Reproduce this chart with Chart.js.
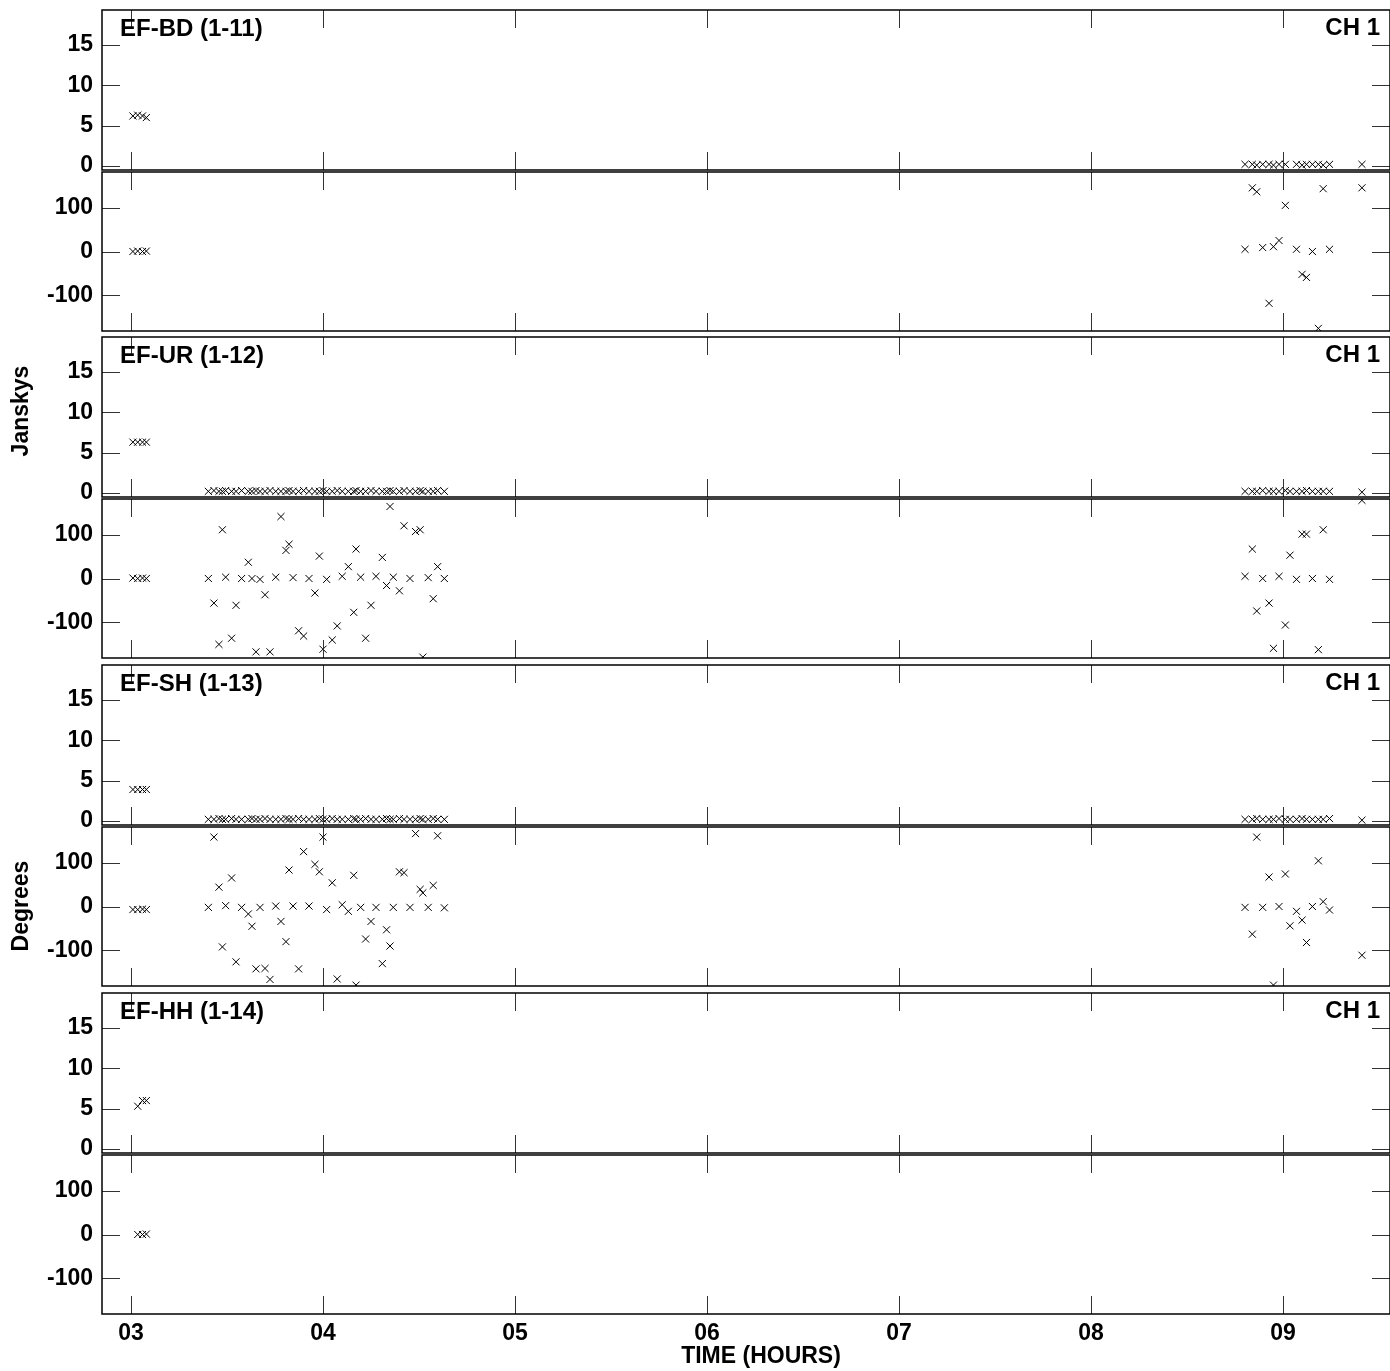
<!DOCTYPE html>
<html>
<head>
<meta charset="utf-8">
<script src="https://cdn.jsdelivr.net/npm/chart.js@4.4.1/dist/chart.umd.min.js"></script>
<style>
  body { margin: 0; background: #fff; }
  #wrap { position: relative; width: 1390px; height: 1371px; overflow: hidden; }
  #wrap canvas { position: absolute; left: 0; }
</style>
</head>
<body>
<div id="wrap"></div>
<script>
// scan times (hours)
const scan0T = [3.01, 3.035, 3.06, 3.08];
const scan1T = [3.403, 3.432, 3.458, 3.476, 3.493, 3.524, 3.547, 3.576, 3.611, 3.630,
  3.651, 3.672, 3.698, 3.724, 3.754, 3.781, 3.807, 3.823, 3.844, 3.873,
  3.899, 3.927, 3.958, 3.981, 4.000, 4.019, 4.048, 4.074, 4.100, 4.132,
  4.160, 4.172, 4.196, 4.222, 4.250, 4.276, 4.309, 4.331, 4.349, 4.366,
  4.398, 4.422, 4.453, 4.482, 4.506, 4.520, 4.548, 4.574, 4.597, 4.632];
const scan2T = [8.802, 8.840, 8.863, 8.894, 8.927, 8.950, 8.979, 9.012, 9.036, 9.070,
  9.099, 9.122, 9.153, 9.184, 9.209, 9.242, 9.411];

const baselines = ["EF-BD (1-11)", "EF-UR (1-12)", "EF-SH (1-13)", "EF-HH (1-14)"];
const channel = "CH 1";
const ampTicks = [0, 5, 10, 15];
const phaseTicks = [-100, 0, 100];
const hourTicks = [3, 4, 5, 6, 7, 8, 9];

// EF-BD
const bdAmp0 = [6.2, 6.3, 6.2, 6.0];
const bdPh0 = [0, 1, 0, 1];
const bdAmp2 = [0.2, 0.2, 0.1, 0.2, 0.2, 0.1, 0.2, 0.2, null, 0.2, 0.1, 0.2, 0.2, 0.2, 0.1, 0.2, 0.2];
const bdPh2 = [5, 145, 136, 9, -118, 11, 25, 105, null, 5, -52, -59, 0, -175, 143, 5, 145];

// EF-UR
const urAmp0 = [6.3, 6.3, 6.3, 6.3];
const urPh0 = [1, 0, 1, 0];
const urAmp1 = [0.2, 0.3, 0.2, 0.2, 0.3, 0.2, 0.2, 0.3, 0.2, 0.2,
  0.3, 0.2, 0.2, 0.3, 0.2, 0.2, 0.2, 0.3, 0.2, 0.2,
  0.3, 0.2, 0.2, 0.2, 0.3, 0.2, 0.2, 0.3, 0.2, 0.2,
  0.2, 0.3, 0.2, 0.2, 0.3, 0.2, 0.2, 0.2, 0.3, 0.2,
  0.2, 0.3, 0.2, 0.2, 0.3, 0.2, 0.2, 0.2, 0.3, 0.2];
const urPh1 = [0, -56, -150, 111, 3, -136, -61, 0, 37, 0,
  -167, -2, -37, -167, 3, 141, 64, 78, 2, -119,
  -131, 0, -33, 51, -161, -2, -140, -108, 5, 27,
  -77, 67, 3, -136, -61, 5, 48, -16, 164, 3,
  -28, 120, 0, 107, 111, -179, 2, -46, 27, 0];
const urAmp2 = [0.2, 0.2, 0.2, 0.3, 0.2, 0.2, 0.2, 0.3, 0.2, 0.2, 0.2, 0.3, 0.2, 0.2, 0.2, 0.2, 0.1];
const urPh2 = [5, 67, -74, 0, -56, -159, 5, -106, 53, -2, 101, 101, 0, -162, 111, -2, 178];

// EF-SH
const shAmp0 = [3.9, 3.9, 3.9, 3.9];
const shPh0 = [-7, -7, -6, -7];
const shAmp1 = [0.2, 0.2, 0.3, 0.2, 0.2, 0.3, 0.2, 0.2, 0.2, 0.3,
  0.2, 0.2, 0.3, 0.2, 0.2, 0.2, 0.3, 0.2, 0.2, 0.3,
  0.2, 0.2, 0.2, 0.3, 0.2, 0.2, 0.3, 0.2, 0.2, 0.2,
  0.3, 0.2, 0.2, 0.3, 0.2, 0.2, 0.2, 0.3, 0.2, 0.2,
  0.3, 0.2, 0.2, 0.2, 0.3, 0.2, 0.2, 0.3, 0.2, 0.2];
const shPh1 = [-2, 158, 44, -92, 2, 65, -126, -2, -17, -45,
  -142, -2, -141, -166, 1, -34, -80, 83, 1, -142,
  125, 1, 96, 79, 158, -7, 54, -165, 4, -11,
  71, -179, -2, -74, -34, -2, -130, -53, -90, -2,
  79, 77, -2, 166, 39, 31, -2, 48, 161, -3];
const shAmp2 = [0.2, 0.2, 0.3, 0.2, 0.2, 0.2, 0.3, 0.2, 0.2, 0.2, 0.3, 0.2, 0.2, 0.2, 0.2, 0.3, 0.1];
const shPh2 = [-2, -63, 158, -2, 67, -179, 0, 74, -44, -11, -31, -82, 0, 104, 11, -8, -111];

// EF-HH
const hhAmp0 = [null, 5.3, 6.0, 6.0];
const hhPh0 = [null, 0, 0, 1];

function pts(t, v) {
  const out = [];
  t.forEach((x, i) => { if (v[i] != null) out.push({ x: x, y: v[i] }); });
  return out;
}

const panels = [
  { amp: [pts(scan0T, bdAmp0), pts(scan2T, bdAmp2)], ph: [pts(scan0T, bdPh0), pts(scan2T, bdPh2)] },
  { amp: [pts(scan0T, urAmp0), pts(scan1T, urAmp1), pts(scan2T, urAmp2)], ph: [pts(scan0T, urPh0), pts(scan1T, urPh1), pts(scan2T, urPh2)] },
  { amp: [pts(scan0T, shAmp0), pts(scan1T, shAmp1), pts(scan2T, shAmp2)], ph: [pts(scan0T, shPh0), pts(scan1T, shPh1), pts(scan2T, shPh2)] },
  { amp: [pts(scan0T, hhAmp0)], ph: [pts(scan0T, hhPh0)] }
];

const FONT = '"Liberation Sans", Arial, sans-serif';
Chart.defaults.font.family = FONT;
Chart.defaults.font.weight = 'bold';
Chart.defaults.font.size = 23;
Chart.defaults.color = '#000';

// frame, inward ticks and panel texts
const frame = {
  id: 'frame',
  afterDraw(chart, args, o) {
    const { ctx, chartArea: a } = chart;
    const x = chart.scales.x, y = chart.scales.y;
    ctx.save();
    ctx.strokeStyle = '#333';
    ctx.lineWidth = 1;
    ctx.beginPath();
    x.ticks.forEach(t => {
      const px = Math.round(x.getPixelForValue(t.value)) + 0.5;
      ctx.moveTo(px, a.top); ctx.lineTo(px, a.top + 18);
      ctx.moveTo(px, a.bottom); ctx.lineTo(px, a.bottom - 18);
    });
    y.ticks.forEach(t => {
      const py = Math.round(y.getPixelForValue(t.value)) + 0.5;
      ctx.moveTo(a.left, py); ctx.lineTo(a.left + 18, py);
      ctx.moveTo(a.right, py); ctx.lineTo(a.right - 18, py);
    });
    ctx.stroke();
    ctx.strokeStyle = '#000';
    ctx.lineWidth = 1.5;
    ctx.strokeRect(a.left, a.top, a.width, a.height);
    ctx.fillStyle = '#000';
    ctx.textBaseline = 'middle';
    if (o.name) {
      ctx.font = 'bold 24px ' + FONT;
      ctx.textAlign = 'left';
      ctx.fillText(o.name, a.left + 18, a.top + 19);
      ctx.textAlign = 'right';
      ctx.fillText(channel, a.right - 10, a.top + 18);
    }
    ctx.font = 'bold 23px ' + FONT;
    if (o.vtitle) {
      ctx.save();
      ctx.translate(22, a.top + o.vdy);
      ctx.rotate(-Math.PI / 2);
      ctx.textAlign = 'center';
      ctx.fillText(o.vtitle, 0, 0);
      ctx.restore();
    }
    if (o.xtitle) {
      ctx.textAlign = 'center';
      x.ticks.forEach(t => {
        if (hourTicks.includes(t.value)) {
          ctx.fillText(String(t.value).padStart(2, '0'), x.getPixelForValue(t.value), a.bottom + 20);
        }
      });
      ctx.fillText(o.xtitle, 761, a.bottom + 43);
    }
    ctx.restore();
  }
};

const wrap = document.getElementById('wrap');
const tops = [10, 337, 665, 993];
const AMP_H = 160, GAP = 2, PH_H = 159, PAD = 24;

function makeChart(top, height, padBottom, data, yOpts, frameOpts, bottomAxis) {
  const c = document.createElement('canvas');
  c.width = 1390; c.height = height;
  c.style.top = top + 'px';
  wrap.appendChild(c);
  return new Chart(c, {
    type: 'scatter',
    data: {
      datasets: data.map(d => ({
        data: d,
        pointStyle: 'crossRot',
        pointRadius: 5,
        pointBorderWidth: 1,
        borderColor: '#000',
        backgroundColor: '#000',
        clip: 0
      }))
    },
    options: {
      responsive: false,
      animation: false,
      devicePixelRatio: 1,
      layout: { autoPadding: false, padding: { top: PAD, bottom: padBottom, left: 0, right: 0 } },
      plugins: { legend: { display: false }, tooltip: { enabled: false }, frame: frameOpts },
      scales: {
        x: {
          type: 'linear', min: 2.849, max: 9.557,
          grid: { display: false }, border: { display: false },
          ticks: { display: false, stepSize: 1, includeBounds: false },
          afterFit: s => { s.height = bottomAxis ? 57 : 0; }
        },
        y: Object.assign({
          grid: { display: false, drawTicks: false }, border: { display: false },
          afterFit: s => { s.width = 102; }
        }, yOpts)
      }
    },
    plugins: [frame]
  });
}

const ampY = { min: -0.5, max: 19.34, ticks: { stepSize: 5, includeBounds: false, padding: 9,
  callback: v => ampTicks.includes(v) ? String(v) : '' } };
const phY = { min: -181, max: 181, ticks: { stepSize: 100, includeBounds: false, padding: 9,
  callback: v => phaseTicks.includes(v) ? String(v) : '' } };

panels.forEach((p, i) => {
  const t = tops[i];
  makeChart(t - PAD, AMP_H + 2 * PAD, PAD, p.amp, ampY,
    { name: baselines[i], vtitle: i === 1 ? 'Janskys' : null, vdy: 74 }, false);
  const pt = t + AMP_H + GAP;
  if (i < 3) {
    makeChart(pt - PAD, PH_H + 2 * PAD, PAD, p.ph, phY,
      { vtitle: i === 2 ? 'Degrees' : null, vdy: 79 }, false);
  } else {
    makeChart(pt - PAD, 1371 - (pt - PAD), 0, p.ph, phY,
      { xtitle: 'TIME (HOURS)' }, true);
  }
});
</script>
</body>
</html>
